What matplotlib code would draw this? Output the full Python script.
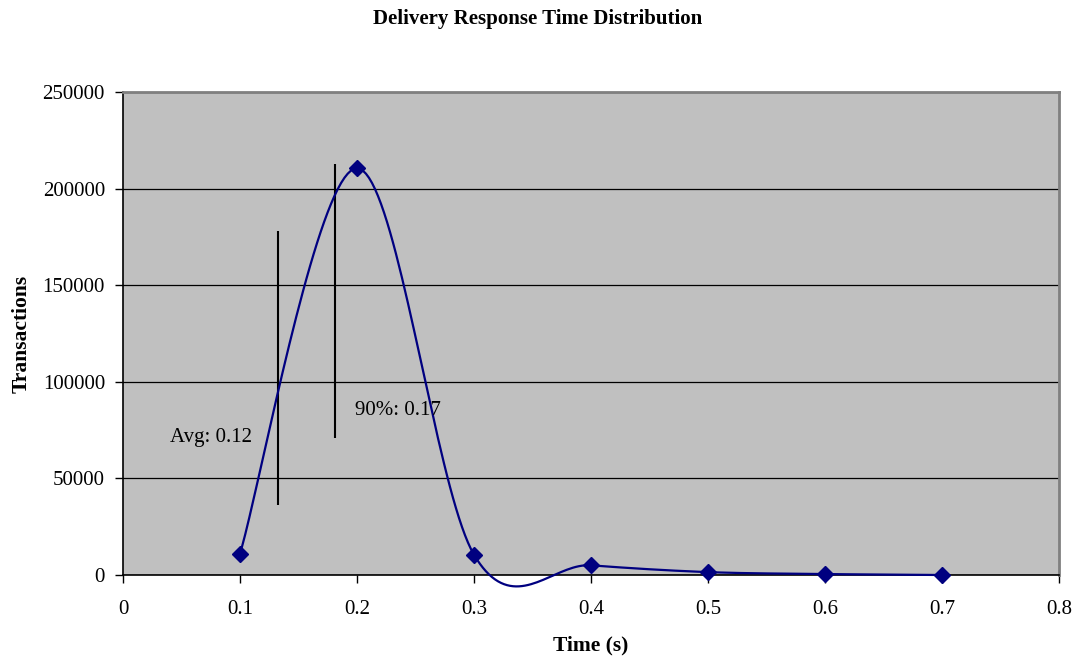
import numpy as np
import matplotlib
matplotlib.use("Agg")
import matplotlib.pyplot as plt

# response time buckets (s) and transaction counts
times = [0.1, 0.2, 0.3, 0.4, 0.5, 0.6, 0.7]
counts = [11000, 210500, 10500, 5000, 1500, 500, 0]

# marker lines for average and 90th percentile
avg_x, avg_lo, avg_hi = 0.1325, 36000, 178000
p90_x, p90_lo, p90_hi = 0.181, 71000, 212500
avg_label = "Avg: 0.12"
p90_label = "90%: 0.17"

xticks = [0, 0.1, 0.2, 0.3, 0.4, 0.5, 0.6, 0.7, 0.8]
yticks = [0, 50000, 100000, 150000, 200000, 250000]

plt.rcParams["font.family"] = ["Liberation Serif", "DejaVu Serif"]


def smooth(xs, ys, n=40):
    """Excel-style smoothed line: cubic Bezier with Catmull-Rom control points."""
    p = np.column_stack([xs, ys]).astype(float)
    p = np.vstack([p[:1], p, p[-1:]])
    out = []
    t = np.linspace(0, 1, n)[:, None]
    for i in range(1, len(p) - 2):
        a, d = p[i], p[i + 1]
        b = a + (p[i + 1] - p[i - 1]) / 6
        c = d - (p[i + 2] - p[i]) / 6
        seg = (1 - t) ** 3 * a + 3 * (1 - t) ** 2 * t * b + 3 * (1 - t) * t ** 2 * c + t ** 3 * d
        out.append(seg)
    out = np.vstack(out)
    return out[:, 0], out[:, 1]


fig = plt.figure(figsize=(10.76, 6.57), dpi=100)
ax = fig.add_axes([123 / 1076, 82 / 657, 936 / 1076, 483 / 657])
ax.set_facecolor("#c0c0c0")

sx, sy = smooth(times, counts)
ax.plot(sx, sy, color="#000080", lw=1.6, clip_on=False, zorder=3)
ax.plot(times, counts, ls="none", marker="D", ms=8, color="#000080", clip_on=False, zorder=4)

ax.vlines([avg_x, p90_x], [avg_lo, p90_lo], [avg_hi, p90_hi], color="black", lw=1.5, zorder=2)
ax.text(0.0402, 71400, avg_label, fontsize=15, va="center")
ax.text(0.198, 84900, p90_label, fontsize=15, va="center")

ax.set_xlim(0, 0.8)
ax.set_ylim(0, 250000)
ax.set_xticks(xticks)
ax.set_xticklabels([f"{v:g}" for v in xticks])
ax.set_yticks(yticks)
ax.set_yticklabels([str(v) for v in yticks])
ax.tick_params(direction="out", length=6, width=1, labelsize=15)
ax.tick_params(axis="x", pad=12)
ax.tick_params(axis="y", pad=7)
ax.yaxis.grid(True, color="black", lw=0.9)
ax.set_axisbelow(True)

for side in ("top", "right"):
    ax.spines[side].set_color("#808080")
    ax.spines[side].set_linewidth(2)
for side in ("left", "bottom"):
    ax.spines[side].set_color("black")
    ax.spines[side].set_linewidth(1.2)

ax.set_xlabel("Time (s)", fontsize=15.5, fontweight="bold", labelpad=12)
ax.set_ylabel("Transactions", fontsize=15.5, fontweight="bold", labelpad=8)
fig.text(0.5, 1 - 19 / 657, "Delivery Response Time Distribution", ha="center", va="center",
         fontsize=15, fontweight="bold")

fig.savefig("out.png", dpi=100)
